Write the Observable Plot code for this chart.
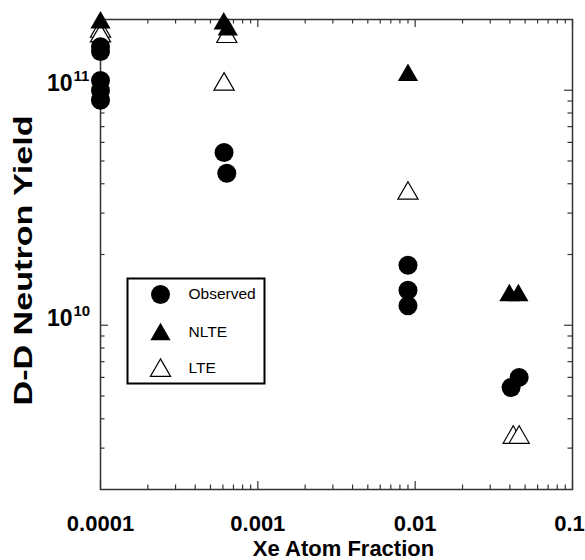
<!DOCTYPE html>
<html>
<head>
<meta charset="utf-8">
<script src="https://cdn.jsdelivr.net/npm/d3@7"></script>
<script src="https://cdn.jsdelivr.net/npm/@observablehq/plot@0.6"></script>
<style>
  html, body { margin: 0; padding: 0; background: #fff; }
  #chart { width: 585px; height: 560px; }
</style>
</head>
<body>
<div id="chart"></div>
<script>
// ---- data ----
const obsX = [1e-4, 1e-4, 1e-4, 1e-4, 1e-4, 6.1e-4, 6.35e-4, 0.009, 0.009, 0.009, 0.0458, 0.0407];
const obsY = [1.53e11, 1.46e11, 1.10e11, 9.98e10, 9.07e10, 5.43e10, 4.43e10, 1.80e10, 1.41e10, 1.21e10, 6.0e9, 5.43e9];

const nlteX = [1e-4, 6.07e-4, 6.44e-4, 0.009, 0.0397, 0.0453];
const nlteY = [1.94e11, 1.92e11, 1.81e11, 1.16e11, 1.34e10, 1.34e10];

const lteX = [1e-4, 1e-4, 6.35e-4, 6.1e-4, 0.009, 0.042, 0.0458];
const lteY = [1.78e11, 1.70e11, 1.69e11, 1.06e11, 3.64e10, 3.33e9, 3.33e9];

const xTickValues = [1e-4, 1e-3, 1e-2, 1e-1];
const xTickLabels = ["0.0001", "0.001", "0.01", "0.1"];
const yTickValues = [1e10, 1e11];
const yTickExponents = ["10", "11"];
const minorMultipliers = [2, 3, 4, 5, 6, 7, 8, 9];

const xTitle = "Xe Atom Fraction";
const yTitle = "D-D Neutron Yield";
const legendLabels = ["Observed", "NLTE", "LTE"];

// ---- build tables ----
const zip = (xs, ys) => xs.map((x, i) => ({x, y: ys[i]}));
const observed = zip(obsX, obsY);
const nlte = zip(nlteX, nlteY);
const lte = zip(lteX, lteY);
const xLabelRows = xTickValues.map((v, i) => ({v, label: xTickLabels[i]}));

const xDomain = [1e-4, 0.1];
const yDomain = [2e9, 2e11];
const minorsFor = (decades, dom) => decades.flatMap(d => minorMultipliers.map(m => d * m)).filter(v => v > dom[0] && v < dom[1]);
const xMinor = minorsFor([1e-4, 1e-3, 1e-2], xDomain);
const yMinor = minorsFor([1e9, 1e10, 1e11], yDomain);

const W = 585, H = 560;
const mL = 100, mR = 13, mT = 19, mB = 71;
const fw = W - mL - mR, fh = H - mT - mB;
const majorLen = 8, minorLen = 4.5;
const axisColor = "#333";

const FONT = "Liberation Sans, Arial, Helvetica, sans-serif";

// legend rows: vertical offsets from the frame's top-left corner
const legendRowDy = [275, 313, 349];

const xLabelStyle = {frameAnchor: "bottom", lineAnchor: "bottom", dy: 41, fontSize: 22, fontWeight: "bold", fill: "#000"};

const plot = Plot.plot({
  width: W,
  height: H,
  marginLeft: mL,
  marginRight: mR,
  marginTop: mT,
  marginBottom: mB,
  style: {fontFamily: FONT, background: "#fff", overflow: "visible"},
  x: {type: "log", domain: xDomain, axis: null},
  y: {type: "log", domain: yDomain, axis: null},
  marks: [
    // inward ticks on all four sides
    Plot.tickX(xTickValues, {x: d => d, insetTop: fh - majorLen, stroke: axisColor, strokeWidth: 1.2}),
    Plot.tickX(xMinor, {x: d => d, insetTop: fh - minorLen, stroke: axisColor, strokeWidth: 1.2}),
    Plot.tickX(xTickValues, {x: d => d, insetBottom: fh - majorLen, stroke: axisColor, strokeWidth: 1.2}),
    Plot.tickX(xMinor, {x: d => d, insetBottom: fh - minorLen, stroke: axisColor, strokeWidth: 1.2}),
    Plot.tickY(yTickValues, {y: d => d, insetRight: fw - majorLen, stroke: axisColor, strokeWidth: 1.2}),
    Plot.tickY(yMinor, {y: d => d, insetRight: fw - minorLen, stroke: axisColor, strokeWidth: 1.2}),
    Plot.tickY(yTickValues, {y: d => d, insetLeft: fw - majorLen, stroke: axisColor, strokeWidth: 1.2}),
    Plot.tickY(yMinor, {y: d => d, insetLeft: fw - minorLen, stroke: axisColor, strokeWidth: 1.2}),
    Plot.frame({stroke: axisColor, strokeWidth: 1.5}),

    // x tick labels (the last one nudged so it stays inside the page)
    Plot.text(xLabelRows.slice(0, -1), {x: "v", text: "label", ...xLabelStyle}),
    Plot.text(xLabelRows.slice(-1), {x: "v", text: "label", ...xLabelStyle, dx: -3}),
    // y tick labels: base "10" plus superscript exponent
    Plot.text(yTickValues, {y: d => d, text: () => "10", frameAnchor: "left", lineAnchor: "bottom", textAnchor: "end", dx: -28, dy: 1, fontSize: 23, fontWeight: "bold", fill: "#000"}),
    Plot.text(yTickValues, {y: d => d, text: (d, i) => yTickExponents[i], frameAnchor: "left", lineAnchor: "bottom", textAnchor: "start", dx: -27, dy: -9, fontSize: 15, fontWeight: "bold", fill: "#000"}),

    // axis titles
    Plot.text([xTitle], {text: d => d, frameAnchor: "bottom", lineAnchor: "bottom", dx: 7, dy: 66, fontSize: 22, fontWeight: "bold", fill: "#000"}),
    Plot.text([yTitle], {text: d => d, frameAnchor: "left", rotate: -90, dx: -77, dy: 6, fontSize: 26, fontWeight: "bold", fill: "#000"}),

    // data
    Plot.dot(lte, {x: "x", y: "y", symbol: "triangle", r: 7.5, fill: "#fff", stroke: "#000", strokeWidth: 1.2}),
    Plot.dot(observed, {x: "x", y: "y", symbol: "circle", r: 9.5, fill: "#000", stroke: "none"}),
    Plot.dot(nlte, {x: "x", y: "y", symbol: "triangle", r: 7.5, fill: "#000", stroke: "none"}),

    // legend
    Plot.frame({insetLeft: 27, insetTop: 259, insetRight: fw - 164, insetBottom: fh - 364, stroke: "#000", strokeWidth: 2, fill: "#fff"}),
    Plot.dot([0], {frameAnchor: "top-left", dx: 60, dy: legendRowDy[0], symbol: "circle", r: 9.5, fill: "#000"}),
    Plot.dot([0], {frameAnchor: "top-left", dx: 60, dy: legendRowDy[1] + 2, symbol: "triangle", r: 7.5, fill: "#000"}),
    Plot.dot([0], {frameAnchor: "top-left", dx: 60, dy: legendRowDy[2] + 2, symbol: "triangle", r: 7.5, fill: "#fff", stroke: "#000", strokeWidth: 1.2}),
    Plot.text([legendLabels[0]], {text: d => d, frameAnchor: "top-left", lineAnchor: "middle", textAnchor: "start", dx: 88, dy: legendRowDy[0], fontSize: 15.5, fill: "#000"}),
    Plot.text([legendLabels[1]], {text: d => d, frameAnchor: "top-left", lineAnchor: "middle", textAnchor: "start", dx: 88, dy: legendRowDy[1], fontSize: 15.5, fill: "#000"}),
    Plot.text([legendLabels[2]], {text: d => d, frameAnchor: "top-left", lineAnchor: "middle", textAnchor: "start", dx: 88, dy: legendRowDy[2], fontSize: 15.5, fill: "#000"})
  ]
});

// stretch the y title to the reference's length, keeping it centred
d3.select(plot).selectAll("text").filter(function () { return this.textContent === yTitle; })
  .attr("text-anchor", "start")
  .attr("x", -145)
  .attr("textLength", 290)
  .attr("lengthAdjust", "spacingAndGlyphs");

document.getElementById("chart").appendChild(plot);
</script>
</body>
</html>
